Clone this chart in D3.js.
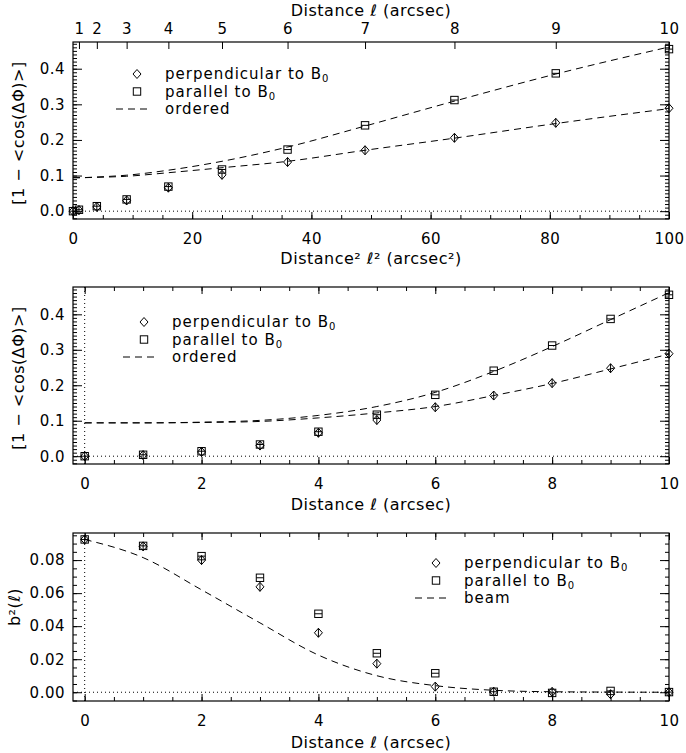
<!DOCTYPE html>
<html><head><meta charset="utf-8">
<script src="https://cdn.jsdelivr.net/npm/d3@7"></script>
<style>
body{margin:0;background:#fff}
svg text{font-family:"DejaVu Sans",sans-serif;fill:#000;letter-spacing:0.5px}
.tick text{font-size:15px}
.lab{font-size:16px}
.leg{font-size:15px;letter-spacing:1px}
</style></head><body>
<script>
// distance l in arcsec
const dist = [0, 1, 2, 3, 4, 5, 6, 7, 8, 9, 10];
const topTicks = [1, 2, 3, 4, 5, 6, 7, 8, 9, 10];

// 1 - <cos(dPhi)>
const perpCos = [0.000, 0.003, 0.012, 0.030, 0.066, 0.102, 0.138, 0.171, 0.206, 0.248, 0.289];
const paraCos = [0.000, 0.004, 0.014, 0.033, 0.069, 0.117, 0.173, 0.241, 0.312, 0.387, 0.455];
const perpOrdered = [0.094, 0.094, 0.095, 0.098, 0.108, 0.122, 0.140, 0.171, 0.205, 0.246, 0.288];
const paraOrdered = [0.094, 0.094, 0.096, 0.101, 0.115, 0.140, 0.180, 0.239, 0.309, 0.385, 0.461];

// b^2(l)
const perpB2 = [0.0925, 0.0883, 0.0800, 0.0638, 0.0360, 0.0173, 0.0034, 0.0003, 0.0002, -0.0012, 0.0000];
const paraB2 = [0.0925, 0.0886, 0.0824, 0.0693, 0.0475, 0.0236, 0.0115, 0.0003, -0.0004, 0.0008, 0.0001];
const beamB2 = [0.0925, 0.0815, 0.0620, 0.0420, 0.0225, 0.0100, 0.0040, 0.0012, 0.0003, 0.0001, 0.0000];

const W = 686, H = 753;
const left = 73, right = 669;
const svg = d3.select("body").append("svg").attr("width", W).attr("height", H);

function range(a, b, s) {
    return d3.range(Math.round(a / s), Math.round(b / s) + 1).map(i => +(i * s).toFixed(6));
}

function drawAxes(g, x, y, o) {
    const [y0, y1] = y.range();
    g.append("rect").attr("x", left).attr("y", y1).attr("width", right - left).attr("height", y0 - y1)
        .attr("fill", "none").attr("stroke", "#000").attr("stroke-width", 1.2);

    const clean = s => s.select(".domain").remove();
    // bottom
    g.append("g").attr("transform", `translate(0,${y0})`)
        .call(d3.axisBottom(x).tickValues(o.xMajor).tickSize(-7).tickPadding(14).tickFormat(d3.format("d"))).call(clean);
    g.append("g").attr("transform", `translate(0,${y0})`)
        .call(d3.axisBottom(x).tickValues(o.xMinor).tickSize(-4).tickFormat("")).call(clean);
    // top
    if (o.top) {
        g.append("g").attr("transform", `translate(0,${y1})`)
            .call(d3.axisTop(x).tickValues(o.top.map(l => l * l)).tickSize(-7).tickPadding(8)
                .tickFormat((d, i) => o.top[i])).call(clean);
    } else {
        g.append("g").attr("transform", `translate(0,${y1})`)
            .call(d3.axisTop(x).tickValues(o.xMajor).tickSize(-7).tickFormat("")).call(clean);
        g.append("g").attr("transform", `translate(0,${y1})`)
            .call(d3.axisTop(x).tickValues(o.xMinor).tickSize(-4).tickFormat("")).call(clean);
    }
    // left / right
    g.append("g").attr("transform", `translate(${left},0)`)
        .call(d3.axisLeft(y).tickValues(o.yMajor).tickSize(-9).tickPadding(8).tickFormat(d3.format(o.yFmt))).call(clean);
    g.append("g").attr("transform", `translate(${left},0)`)
        .call(d3.axisLeft(y).tickValues(o.yMinor).tickSize(-4).tickFormat("")).call(clean);
    g.append("g").attr("transform", `translate(${right},0)`)
        .call(d3.axisRight(y).tickValues(o.yMajor).tickSize(-9).tickFormat("")).call(clean);
    g.append("g").attr("transform", `translate(${right},0)`)
        .call(d3.axisRight(y).tickValues(o.yMinor).tickSize(-4).tickFormat("")).call(clean);
    g.selectAll(".tick line").attr("stroke", "#000");
}

function diamond(g, cx, cy, bar) {
    g.append("path").attr("d", `M${cx},${cy - 4.5}L${cx + 4},${cy}L${cx},${cy + 4.5}L${cx - 4},${cy}Z`)
        .attr("fill", "none").attr("stroke", "#000").attr("stroke-width", 1);
    if (bar) g.append("line").attr("x1", cx).attr("x2", cx).attr("y1", cy - 4.5).attr("y2", cy + 4.5)
        .attr("stroke", "#000");
}
function square(g, cx, cy, bar) {
    g.append("rect").attr("x", cx - 3.7).attr("y", cy - 3.7).attr("width", 7.4).attr("height", 7.4)
        .attr("fill", "none").attr("stroke", "#000").attr("stroke-width", 1);
    if (bar) g.append("line").attr("x1", cx - 3.7).attr("x2", cx + 3.7).attr("y1", cy).attr("y2", cy)
        .attr("stroke", "#000");
}

function legend(g, lx, ly, lastLabel) {
    diamond(g, lx, ly, false);
    square(g, lx, ly + 17.5, false);
    g.append("line").attr("x1", lx - 21).attr("x2", lx + 11).attr("y1", ly + 35).attr("y2", ly + 35)
        .attr("stroke", "#000").attr("stroke-dasharray", "7,5");
    const tx = lx + 28;
    const t1 = g.append("text").attr("class", "leg").attr("x", tx).attr("y", ly + 5).text("perpendicular to B");
    t1.append("tspan").attr("dy", 3).attr("font-size", 10).text("0");
    const t2 = g.append("text").attr("class", "leg").attr("x", tx).attr("y", ly + 22.5).text("parallel to B");
    t2.append("tspan").attr("dy", 3).attr("font-size", 10).text("0");
    g.append("text").attr("class", "leg").attr("x", tx).attr("y", ly + 40).text(lastLabel);
}

function dotted(g, x1, y1, x2, y2) {
    g.append("line").attr("x1", x1).attr("y1", y1).attr("x2", x2).attr("y2", y2)
        .attr("stroke", "#000").attr("stroke-dasharray", "1,3");
}

function points(g, x, y, xs, perp, para) {
    xs.forEach((v, i) => square(g, x(v), y(para[i]), true));
    xs.forEach((v, i) => diamond(g, x(v), y(perp[i]), true));
}

function dashLine(g, x, y, xs, ys) {
    const line = d3.line().x((d, i) => x(xs[i])).y(d => y(d)).curve(d3.curveMonotoneX);
    g.append("path").attr("d", line(ys)).attr("fill", "none").attr("stroke", "#000")
        .attr("stroke-dasharray", "7,5");
}

function yTitle(g, cx, cy, text) {
    g.append("text").attr("class", "lab").attr("transform", `translate(${cx},${cy}) rotate(-90)`)
        .attr("text-anchor", "middle").attr("dy", "0.35em").text(text);
}

// ---------- panel 1: vs l^2 ----------
{
    const g = svg.append("g");
    const x = d3.scaleLinear().domain([0, 100]).range([left, right]);
    const y = d3.scaleLinear().domain([-0.022, 0.475]).range([219, 42]);
    const l2 = dist.map(l => l * l);
    dotted(g, left, y(0), right, y(0));
    dashLine(g, x, y, l2, perpOrdered);
    dashLine(g, x, y, l2, paraOrdered);
    points(g, x, y, l2, perpCos, paraCos);
    drawAxes(g, x, y, {
        xMajor: range(0, 100, 20), xMinor: range(0, 100, 5), top: topTicks,
        yMajor: range(0, 0.4, 0.1), yMinor: range(-0.02, 0.47, 0.01), yFmt: ".1f"
    });
    legend(g, 137, 74, "ordered");
    g.append("text").attr("class", "lab").attr("x", (left + right) / 2).attr("y", 16)
        .attr("text-anchor", "middle").text("Distance ℓ (arcsec)");
    g.append("text").attr("class", "lab").attr("x", (left + right) / 2).attr("y", 264)
        .attr("text-anchor", "middle").text("Distance² ℓ² (arcsec²)");
    yTitle(g, 18, 133, "[1 − <cos(ΔΦ)>]");
}

// ---------- panel 2: vs l ----------
{
    const g = svg.append("g");
    const x = d3.scaleLinear().domain([-0.2, 10]).range([left, right]);
    const y = d3.scaleLinear().domain([-0.022, 0.477]).range([464, 287]);
    dotted(g, left, y(0), right, y(0));
    dotted(g, x(0), 464, x(0), 287);
    dashLine(g, x, y, dist, perpOrdered);
    dashLine(g, x, y, dist, paraOrdered);
    points(g, x, y, dist, perpCos, paraCos);
    drawAxes(g, x, y, {
        xMajor: range(0, 10, 2), xMinor: range(0, 10, 0.5),
        yMajor: range(0, 0.4, 0.1), yMinor: range(-0.02, 0.47, 0.01), yFmt: ".1f"
    });
    legend(g, 144, 322, "ordered");
    g.append("text").attr("class", "lab").attr("x", (left + right) / 2).attr("y", 510)
        .attr("text-anchor", "middle").text("Distance ℓ (arcsec)");
    yTitle(g, 18, 378, "[1 − <cos(ΔΦ)>]");
}

// ---------- panel 3: b^2(l) ----------
{
    const g = svg.append("g");
    const x = d3.scaleLinear().domain([-0.2, 10]).range([left, right]);
    const y = d3.scaleLinear().domain([-0.0053, 0.0964]).range([701, 533]);
    dotted(g, left, y(0), right, y(0));
    dotted(g, x(0), 701, x(0), 533);
    dashLine(g, x, y, dist, beamB2);
    points(g, x, y, dist, perpB2, paraB2);
    drawAxes(g, x, y, {
        xMajor: range(0, 10, 2), xMinor: range(0, 10, 0.5),
        yMajor: range(0, 0.08, 0.02), yMinor: range(-0.005, 0.095, 0.005), yFmt: ".2f"
    });
    legend(g, 436, 563, "beam");
    g.append("text").attr("class", "lab").attr("x", (left + right) / 2).attr("y", 748)
        .attr("text-anchor", "middle").text("Distance ℓ (arcsec)");
    yTitle(g, 14, 607, "b²(ℓ)");
}
</script>
</body></html>
